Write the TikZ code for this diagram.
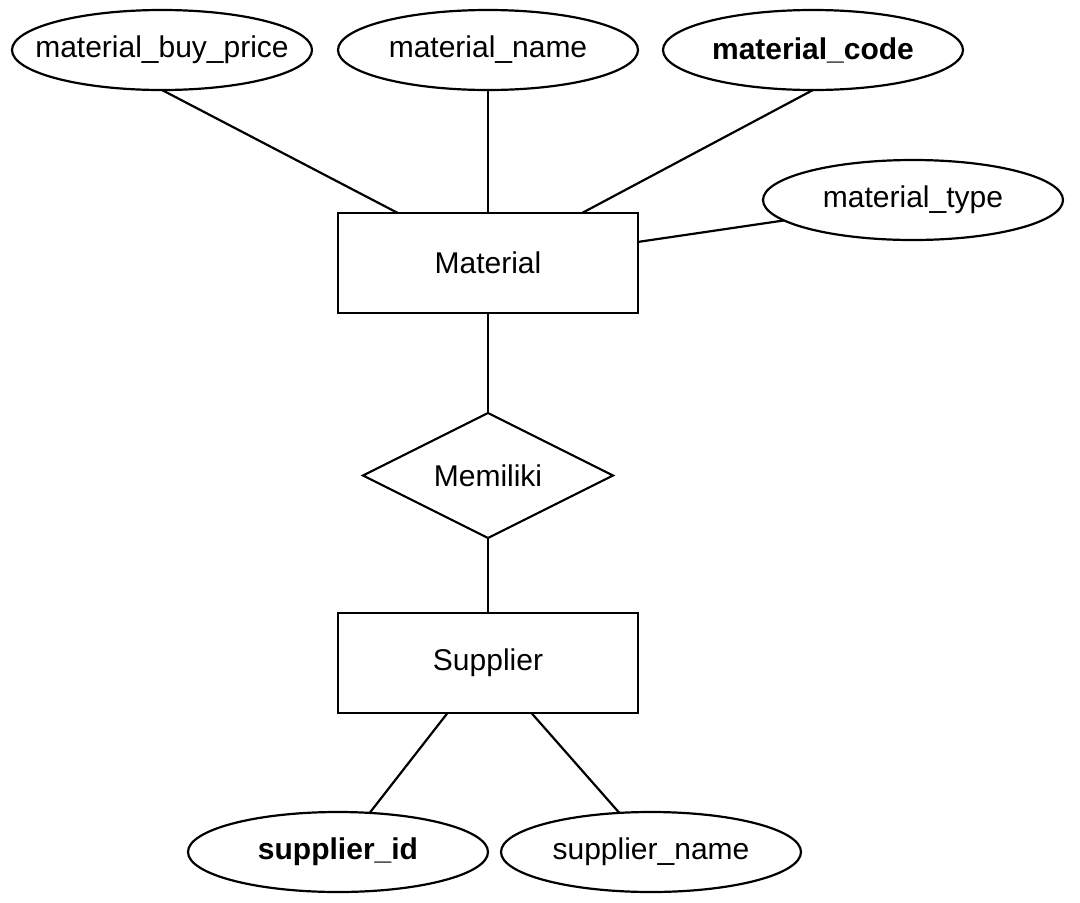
\documentclass[tikz,border=0pt]{standalone}
\usepackage{fontspec}
\setmainfont{Liberation Sans}
\usetikzlibrary{positioning,shapes.geometric}

\begin{document}
\begin{tikzpicture}[line width=2.2pt, font=\fontsize{30}{35}\selectfont,
	   ent/.style={draw, minimum width=300pt, minimum height=100pt, inner sep=0pt, outer sep=0pt},
	   attr/.style={draw, ellipse, minimum width=300pt, minimum height=80pt, inner xsep=-70pt, inner ysep=0pt, outer sep=0pt},
	   rel/.style={draw, diamond, aspect=2, minimum width=250pt, minimum height=125pt, inner sep=0pt, outer sep=0pt}]
	  \useasboundingbox (0,0) rectangle (1080pt,-903pt);
	  % entities and relation
	  \node[ent] (mat) at (488pt,-263pt) {Material};
	  \node[rel, below=100pt of mat] (mem) {Memiliki};
	  \node[ent, below=75pt of mem] (sup) {Supplier};
	  % attributes of Material
	  \node[attr, above=123pt of mat] (mname) {material\_name};
	  \node[attr, left=26pt of mname] (mprice) {material\_buy\_price};
	  \node[attr, right=25pt of mname] (mcode) {\textbf{material\_code}};
	  \node[attr, right=125pt of mat, yshift=63pt] (mtype) {material\_type};
	  % attributes of Supplier
	  \node[attr, below=99pt of sup, xshift=-150pt] (sid) {\textbf{supplier\_id}};
	  \node[attr, right=13pt of sid] (sname) {supplier\_name};
	  \draw (mprice.south) -- (mat.151);
	  \draw (mname) -- (mat);
	  \draw (mcode.south) -- (mat.28);
	  \draw (mtype.189) -- (mat.8);
	  \draw (mat) -- (mem);
	  \draw (mem) -- (sup);
	  \draw (sup.231) -- (sid.51);
	  \draw (sup.311) -- (sname.129);
	\end{tikzpicture}
\end{document}
